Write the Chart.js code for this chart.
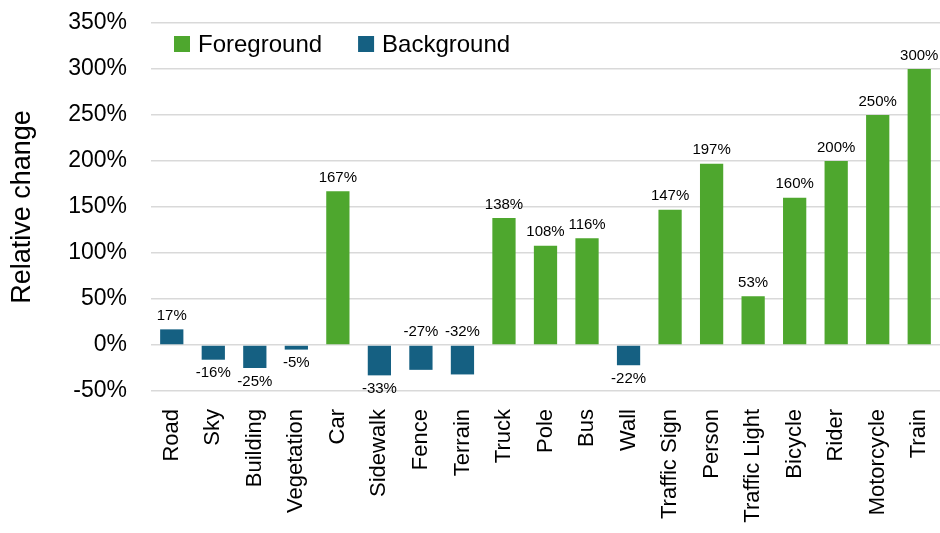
<!DOCTYPE html>
<html>
<head>
<meta charset="utf-8">
<script src="https://cdn.jsdelivr.net/npm/chart.js@4"></script>
<style>
  html, body { margin: 0; padding: 0; background: #fff; }
  #wrap { width: 940px; height: 533px; }
</style>
</head>
<body>
<div id="wrap"><canvas id="barChart" width="940" height="533"></canvas></div>
<script>
var categories = ["Road", "Sky", "Building", "Vegetation", "Car", "Sidewalk", "Fence", "Terrain", "Truck", "Pole", "Bus", "Wall", "Traffic Sign", "Person", "Traffic Light", "Bicycle", "Rider", "Motorcycle", "Train"];
var changeValues = [17, -16, -25, -5, 167, -33, -27, -32, 138, 108, 116, -22, 147, 197, 53, 160, 200, 250, 300];
var foregroundClasses = ["Car", "Truck", "Pole", "Bus", "Traffic Sign", "Person", "Traffic Light", "Bicycle", "Rider", "Motorcycle", "Train"];
var yTicks = [-50, 0, 50, 100, 150, 200, 250, 300, 350];

// labels Excel moved above the zero line
var labelsAbove = ["Fence", "Terrain"];

var FONT = "'Liberation Sans', Arial, sans-serif";
var GREEN = "#4ea72e";
var BLUE = "#156082";

var fgData = categories.map(function (c, i) { return foregroundClasses.indexOf(c) >= 0 ? changeValues[i] : null; });
var bgData = categories.map(function (c, i) { return foregroundClasses.indexOf(c) >= 0 ? null : changeValues[i]; });

var barLabels = {
  id: "barLabels",
  afterDatasetsDraw: function (chart) {
    var ctx = chart.ctx;
    var yScale = chart.scales.y;
    ctx.save();
    ctx.font = "15px " + FONT;
    ctx.fillStyle = "#000";
    ctx.textAlign = "center";
    chart.data.datasets.forEach(function (ds, di) {
      chart.getDatasetMeta(di).data.forEach(function (bar, i) {
        var v = ds.data[i];
        if (v === null) return;
        var txt = v + "%";
        if (v >= 0) {
          ctx.textBaseline = "bottom";
          ctx.fillText(txt, bar.x, bar.y - 6);
        } else if (labelsAbove.indexOf(categories[i]) >= 0) {
          ctx.textBaseline = "bottom";
          ctx.fillText(txt, bar.x, yScale.getPixelForValue(0) - 6);
        } else {
          ctx.textBaseline = "top";
          ctx.fillText(txt, bar.x, bar.y + 6);
        }
      });
    });
    ctx.restore();
  }
};

var insideLegend = {
  id: "insideLegend",
  afterDraw: function (chart) {
    var ctx = chart.ctx;
    var area = chart.chartArea;
    var x = area.left + 23;
    var y = area.top + 21;
    ctx.save();
    ctx.font = "24px " + FONT;
    ctx.textBaseline = "middle";
    ctx.textAlign = "left";
    chart.data.datasets.forEach(function (ds) {
      ctx.fillStyle = ds.backgroundColor;
      ctx.fillRect(x, y - 8, 16, 16);
      ctx.fillStyle = "#000";
      ctx.fillText(ds.label, x + 24, y + 1);
      x += 24 + ctx.measureText(ds.label).width + 36;
    });
    ctx.restore();
  }
};

new Chart("barChart", {
  type: "bar",
  data: {
    labels: categories,
    datasets: [
      { label: "Foreground", data: fgData, backgroundColor: GREEN },
      { label: "Background", data: bgData, backgroundColor: BLUE }
    ]
  },
  options: {
    responsive: false,
    animation: false,
    layout: { padding: { top: 23, right: 0, left: 6, bottom: 0 } },
    datasets: { bar: { categoryPercentage: 1, barPercentage: 0.56 } },
    plugins: {
      legend: { display: false },
      tooltip: { enabled: false }
    },
    scales: {
      x: {
        stacked: true,
        grid: { display: false },
        border: { display: false },
        ticks: {
          color: "#000",
          font: { family: FONT, size: 22 },
          minRotation: 90,
          maxRotation: 90,
          padding: 10,
          autoSkip: false
        },
        afterFit: function (s) {
          s.height = 142;
          s.paddingLeft = 0;
          s.paddingRight = 0;
        }
      },
      y: {
        stacked: true,
        min: -50,
        max: 350,
        afterBuildTicks: function (s) { s.ticks = yTicks.map(function (v) { return { value: v }; }); },
        grid: { color: "#d9d9d9", lineWidth: 1.5, drawTicks: false },
        border: { display: false },
        ticks: {
          color: "#000",
          font: { family: FONT, size: 23 },
          padding: 24,
          callback: function (v) { return v + "%"; }
        },
        title: {
          display: true,
          text: "Relative change",
          color: "#000",
          font: { family: FONT, size: 27 },
          padding: { top: 0, bottom: 0 }
        },
        afterFit: function (s) {
          s.width = 145;
          s.paddingTop = 0;
          s.paddingBottom = 0;
        }
      }
    }
  },
  plugins: [barLabels, insideLegend]
});
</script>
</body>
</html>
